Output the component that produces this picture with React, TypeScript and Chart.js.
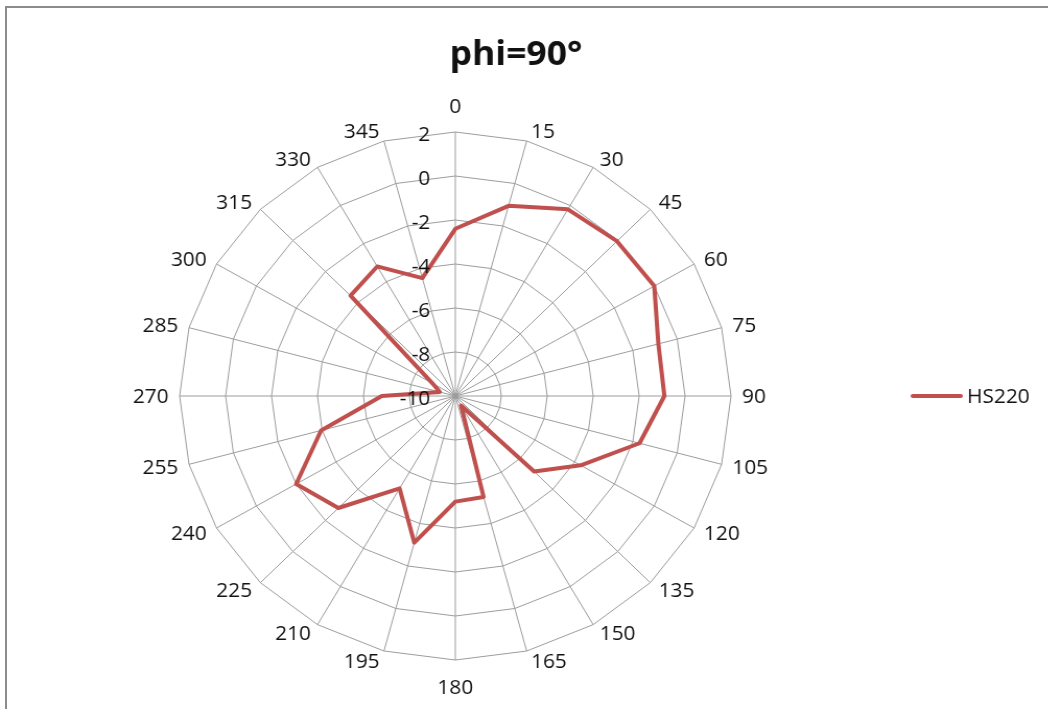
import React, { useEffect, useRef } from "react";
import { Chart, registerables } from "chart.js";

Chart.register(...registerables);

// ---- data ----
const angleLabels = [
  "0", "15", "30", "45", "60", "75", "90", "105", "120", "135", "150", "165",
  "180", "195", "210", "225", "240", "255", "270", "285", "300", "315", "330", "345",
];
const hs220Values = [
  -2.4, -1.05, -0.2, -0.05, 0.0, -0.85, -0.9, -1.7, -3.7, -5.15, -9.5, -5.25,
  -5.2, -3.1, -5.15, -2.8, -2.0, -3.95, -6.8, -9.3, -8.85, -3.55, -3.2, -4.45,
];
const radialTicks = [-10, -8, -6, -4, -2, 0, 2];
const seriesName = "HS220";
const titleText = "phi=90°";

// ---- layout / style ----
const SX = 1.0443; // horizontal stretch of the reference picture
const CANVAS_W = 1004;
const CANVAS_H = 709;
const FONT = "'Open Sans', 'Noto Sans', sans-serif";
const TEXT_COLOR = "#111111";
const GRID_COLOR = "#9c9c9c";
const LINE_COLOR = "#c0504d";

const decorPlugin = {
  id: "decor",
  afterDraw(chart: any) {
    const ctx = chart.ctx as CanvasRenderingContext2D;
    const s = chart.scales.r;
    const cx = s.xCenter;
    const cy = s.yCenter;
    const R = s.drawingArea;
    const labels: string[] = chart.data.labels;
    const n = labels.length;
    ctx.save();
    ctx.fillStyle = TEXT_COLOR;
    ctx.textBaseline = "alphabetic";
    ctx.font = `20px ${FONT}`;
    const half = 7.1; // half cap-height for vertical centring

    // angle labels
    labels.forEach((lab, i) => {
      const p = s.getPointPosition(i, R);
      const deg = (i * 360) / n;
      const rad = (deg * Math.PI) / 180;
      const sin = Math.sin(rad);
      const cos = Math.cos(rad);
      let x = p.x;
      let yc: number;
      let align: CanvasTextAlign;
      if (deg === 0) {
        align = "center";
        yc = p.y - 26;
      } else if (deg === 180) {
        align = "center";
        yc = p.y + 27;
      } else {
        const side = deg < 180 ? 1 : -1;
        align = deg < 180 ? "left" : "right";
        x = p.x + (side * (2 + 9 * Math.abs(sin))) / SX;
        yc = p.y - 10 * cos;
      }
      ctx.textAlign = align;
      ctx.fillText(lab, x, yc + half);
    });

    // radial tick labels
    ctx.textAlign = "right";
    s.ticks.forEach((t: any) => {
      const y = cy - s.getDistanceFromCenterForValue(t.value);
      ctx.fillText(String(t.value), cx - 25 / SX, y + 1.5 + half);
    });

    // title
    ctx.font = `bold 34px ${FONT}`;
    ctx.textAlign = "center";
    ctx.fillText(titleText, 494, 65);

    // legend
    const ds = chart.data.datasets[0];
    ctx.strokeStyle = ds.borderColor;
    ctx.lineWidth = 4;
    ctx.lineCap = "round";
    ctx.beginPath();
    ctx.moveTo(874, 396);
    ctx.lineTo(920, 396);
    ctx.stroke();
    ctx.font = `20px ${FONT}`;
    ctx.textAlign = "left";
    ctx.fillText(ds.label, 926, 396 + half);
    ctx.restore();
  },
};

export default function App() {
  const canvasRef = useRef<HTMLCanvasElement | null>(null);

  useEffect(() => {
    if (!canvasRef.current) return;
    const chart = new Chart(canvasRef.current, {
      type: "radar",
      data: {
        labels: angleLabels,
        datasets: [
          {
            label: seriesName,
            data: hs220Values,
            borderColor: LINE_COLOR,
            backgroundColor: "rgba(0,0,0,0)",
            borderWidth: 4,
            borderJoinStyle: "round",
            pointRadius: 0,
            pointHoverRadius: 0,
            fill: false,
            tension: 0,
          },
        ],
      },
      options: {
        responsive: false,
        animation: false,
        events: [],
        layout: {
          padding: { left: 172, top: 132, right: CANVAS_W - 172 - 528, bottom: CANVAS_H - 132 - 528 },
        },
        plugins: {
          legend: { display: false },
          title: { display: false },
          tooltip: { enabled: false },
        },
        scales: {
          r: {
            min: -10,
            max: 2,
            startAngle: 0,
            afterBuildTicks: (scale: any) => {
              scale.ticks = radialTicks.map((v) => ({ value: v }));
            },
            ticks: { display: false, stepSize: 2 },
            pointLabels: { display: false },
            grid: { color: GRID_COLOR, lineWidth: 1, circular: false },
            angleLines: { color: GRID_COLOR, lineWidth: 1 },
          },
        },
      },
      plugins: [decorPlugin],
    });
    return () => chart.destroy();
  }, []);

  return (
    <div
      style={{
        position: "fixed",
        left: 0,
        top: 0,
        width: 1048,
        height: 709,
        overflow: "hidden",
        background: "#ffffff",
      }}
    >
      <canvas
        ref={canvasRef}
        width={CANVAS_W}
        height={CANVAS_H}
        style={{
          position: "absolute",
          left: 0,
          top: 0,
          transform: `scaleX(${SX})`,
          transformOrigin: "0 0",
        }}
      />
      <div
        style={{
          position: "absolute",
          left: 5,
          top: 6,
          width: 2000,
          height: 2000,
          borderLeft: "2px solid #8c8c8c",
          borderTop: "2px solid #8c8c8c",
          pointerEvents: "none",
        }}
      />
    </div>
  );
}
